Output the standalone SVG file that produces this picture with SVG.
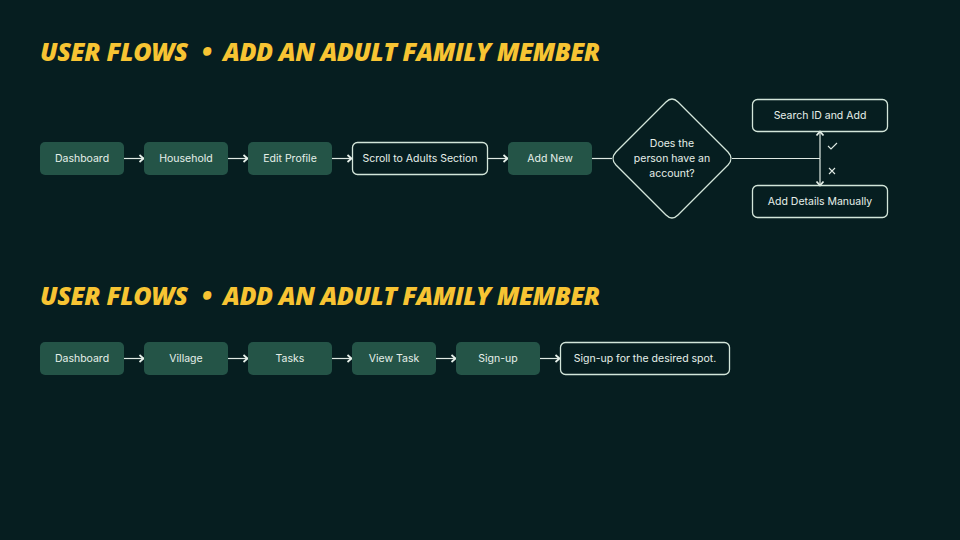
<svg xmlns="http://www.w3.org/2000/svg" width="960" height="540" viewBox="0 0 960 540">
<defs>
<marker id="chev" viewBox="0 0 10 10" refX="9" refY="5" markerWidth="10" markerHeight="10" markerUnits="userSpaceOnUse" orient="auto">
<path d="M4.5,1.5 L8.5,5 L4.5,8.5" fill="none" stroke="#e6f0ea" stroke-width="1.8"/>
</marker>
</defs>
<style>
.title{font-family:"Open Sans","Liberation Sans",sans-serif;font-weight:800;font-style:italic;font-size:25px;fill:#f7c433}
.fill{fill:#245447}
.out{fill:none;stroke:#d3e6da;stroke-width:1.3}
.lbl{font-family:"Inter","Noto Sans","Liberation Sans",sans-serif;font-size:10.5px;fill:#e6f0ea;text-anchor:middle;dominant-baseline:central}
.con{stroke:#dfe9e3;stroke-width:1.2;fill:none}
.mark{stroke:#dfe9e3;stroke-width:1.1;fill:none}
</style>
<rect width="960" height="540" fill="#061e20"/>
<g id="title1">
<text class="title" x="40" y="61" textLength="148" lengthAdjust="spacing">USER FLOWS</text>
<text class="title" x="202" y="61">•</text>
<text class="title" x="223" y="61" textLength="377" lengthAdjust="spacing">ADD AN ADULT FAMILY MEMBER</text>
</g>
<g id="title2">
<text class="title" x="40" y="305" textLength="148" lengthAdjust="spacing">USER FLOWS</text>
<text class="title" x="202" y="305">•</text>
<text class="title" x="223" y="305" textLength="377" lengthAdjust="spacing">ADD AN ADULT FAMILY MEMBER</text>
</g>

<g id="connectors">
<line class="con" x1="124" y1="158.5" x2="144" y2="158.5" marker-end="url(#chev)"/>
<line class="con" x1="228" y1="158.5" x2="248" y2="158.5" marker-end="url(#chev)"/>
<line class="con" x1="332" y1="158.5" x2="352" y2="158.5" marker-end="url(#chev)"/>
<line class="con" x1="488" y1="158.5" x2="508" y2="158.5" marker-end="url(#chev)"/>
<line class="con" x1="592" y1="158.5" x2="612" y2="158.5"/>
<line class="con" x1="732" y1="158.5" x2="820" y2="158.5"/>
<line class="con" x1="820" y1="158.5" x2="820" y2="131" marker-end="url(#chev)"/>
<line class="con" x1="820" y1="158.5" x2="820" y2="186" marker-end="url(#chev)"/>
<path class="mark" d="M828,146 L831,149 L837,143"/>
<path class="mark" d="M829,168 L835,174 M835,168 L829,174"/>
<line class="con" x1="124" y1="358.5" x2="144" y2="358.5" marker-end="url(#chev)"/>
<line class="con" x1="228" y1="358.5" x2="248" y2="358.5" marker-end="url(#chev)"/>
<line class="con" x1="332" y1="358.5" x2="352" y2="358.5" marker-end="url(#chev)"/>
<line class="con" x1="436" y1="358.5" x2="456" y2="358.5" marker-end="url(#chev)"/>
<line class="con" x1="540" y1="358.5" x2="560" y2="358.5" marker-end="url(#chev)"/>
</g>

<g id="n-dashboard1"><rect class="fill" x="40" y="142" width="84" height="33" rx="5"/><text class="lbl" x="82" y="158.5">Dashboard</text></g>
<g id="n-household"><rect class="fill" x="144" y="142" width="84" height="33" rx="5"/><text class="lbl" x="186" y="158.5">Household</text></g>
<g id="n-editprofile"><rect class="fill" x="248" y="142" width="84" height="33" rx="5"/><text class="lbl" x="290" y="158.5">Edit Profile</text></g>
<g id="n-scroll"><rect class="out" x="352.5" y="142.5" width="135" height="32" rx="5"/><text class="lbl" x="420" y="158.5">Scroll to Adults Section</text></g>
<g id="n-addnew"><rect class="fill" x="508" y="142" width="84" height="33" rx="5"/><text class="lbl" x="550" y="158.5">Add New</text></g>
<g id="n-decision"><path class="out" d="M666,102 Q672,96 678,102 L728,152 Q734,158.5 728,165 L678,215 Q672,221 666,215 L616,165 Q610,158.5 616,152 Z"/>
<text class="lbl" x="672" y="143.5">Does the</text><text class="lbl" x="672" y="158.5">person have an</text><text class="lbl" x="672" y="173.5">account?</text></g>
<g id="n-search"><rect class="out" x="752.5" y="99.5" width="135" height="32" rx="5"/><text class="lbl" x="820" y="115.5">Search ID and Add</text></g>
<g id="n-manual"><rect class="out" x="752.5" y="185.5" width="135" height="32" rx="5"/><text class="lbl" x="820" y="201.5">Add Details Manually</text></g>

<g id="n-dashboard2"><rect class="fill" x="40" y="342" width="84" height="33" rx="5"/><text class="lbl" x="82" y="358.5">Dashboard</text></g>
<g id="n-village"><rect class="fill" x="144" y="342" width="84" height="33" rx="5"/><text class="lbl" x="186" y="358.5">Village</text></g>
<g id="n-tasks"><rect class="fill" x="248" y="342" width="84" height="33" rx="5"/><text class="lbl" x="290" y="358.5">Tasks</text></g>
<g id="n-viewtask"><rect class="fill" x="352" y="342" width="84" height="33" rx="5"/><text class="lbl" x="394" y="358.5">View Task</text></g>
<g id="n-signup"><rect class="fill" x="456" y="342" width="84" height="33" rx="5"/><text class="lbl" x="498" y="358.5">Sign-up</text></g>
<g id="n-desired"><rect class="out" x="560.5" y="342.5" width="169" height="32" rx="5"/><text class="lbl" x="645" y="358.5">Sign-up for the desired spot.</text></g>
</svg>
